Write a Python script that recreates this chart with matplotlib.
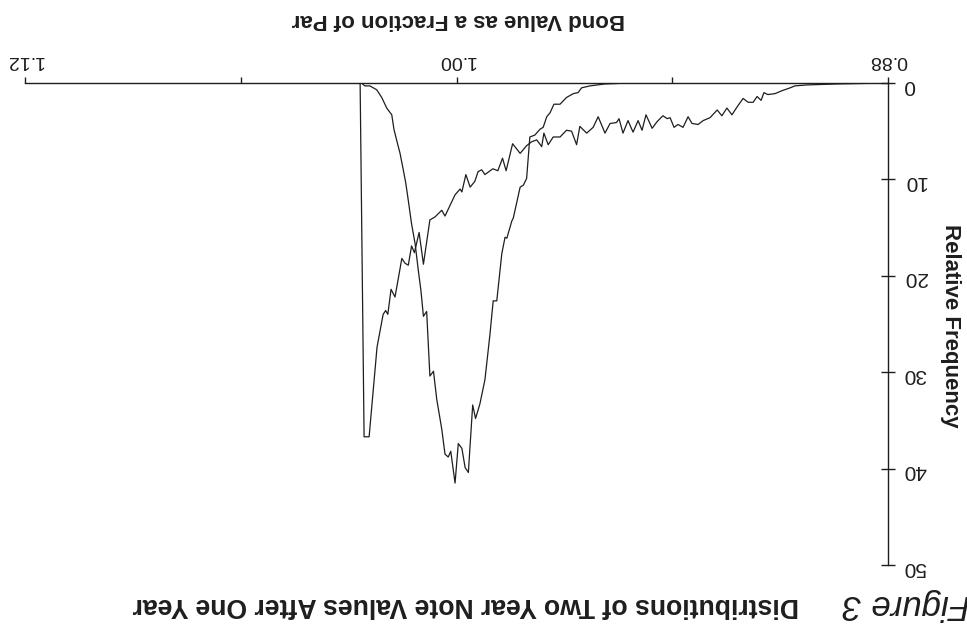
import numpy as np
import matplotlib.pyplot as plt

# bond value as a fraction of par / relative frequency
# curve with the sharp edge near par
bond_a = [1.0268, 1.0257, 1.0243, 1.0221, 1.0204, 1.0197, 1.0191, 1.0182, 1.0171,
          1.0152, 1.0143, 1.0134, 1.0125, 1.0117, 1.0104, 1.0092, 1.0074, 1.0060,
          1.0041, 1.0032, 1.0018, 1.0004, 0.9990, 0.9985, 0.9974, 0.9962, 0.9949,
          0.9940, 0.9930, 0.9921, 0.9899, 0.9885, 0.9872, 0.9862, 0.9844, 0.9823,
          0.9805, 0.9791, 0.9777, 0.9763, 0.9757, 0.9745, 0.9731, 0.9712, 0.9694,
          0.9680, 0.9666, 0.9657, 0.9638, 0.9620, 0.9606, 0.9587, 0.9573, 0.9555,
          0.9548, 0.9537, 0.9523, 0.9509, 0.9495, 0.9484, 0.9473, 0.9456, 0.9442,
          0.9426, 0.9414, 0.9406, 0.9395, 0.9384, 0.9370, 0.9356, 0.9345, 0.9328,
          0.9314, 0.9295, 0.9275, 0.9262, 0.9248, 0.9234, 0.9220, 0.9203, 0.9189,
          0.9175, 0.9164, 0.9153, 0.9145, 0.9134, 0.9114, 0.9095, 0.9072, 0.9059,
          0.9025, 0.8942, 0.8803]
freq_a = [0.1, 36.7, 36.7, 27.4, 24.0, 23.6, 24.0, 21.4, 22.2,
          18.2, 18.7, 18.9, 16.9, 17.6, 15.5, 18.8, 14.2, 13.9,
          13.2, 13.8, 12.7, 11.6, 11.0, 11.3, 9.5, 10.8, 10.2,
          9.2, 9.0, 9.5, 8.9, 9.1, 7.8, 9.1, 6.3, 7.3,
          6.5, 6.1, 5.9, 6.6, 5.2, 6.4, 5.6, 5.6, 4.9,
          5.0, 6.4, 4.5, 5.2, 4.6, 3.5, 5.2, 4.2, 4.1,
          3.7, 5.2, 3.9, 5.1, 3.9, 4.9, 3.3, 4.7, 4.0,
          3.4, 3.7, 3.6, 4.6, 4.3, 4.6, 3.5, 4.2, 4.3,
          3.9, 3.6, 2.8, 3.4, 2.6, 3.3, 2.5, 1.6, 2.0,
          2.0, 1.4, 1.8, 1.0, 1.2, 1.1, 0.8, 0.5, 0.3,
          0.2, 0.1, 0.0]

# bell shaped curve
bond_b = [1.0264, 1.0255, 1.0241, 1.0222, 1.0208, 1.0194, 1.0180, 1.0174, 1.0166,
          1.0157, 1.0148, 1.0141, 1.0134, 1.0125, 1.0115, 1.0106, 1.0099, 1.0092,
          1.0083, 1.0074, 1.0064, 1.0055, 1.0041, 1.0032, 1.0023, 1.0016, 1.0004,
          0.9995, 0.9985, 0.9976, 0.9967, 0.9955, 0.9947, 0.9935, 0.9921, 0.9907,
          0.9898, 0.9888, 0.9874, 0.9865, 0.9860, 0.9846, 0.9842, 0.9823, 0.9814,
          0.9805, 0.9796, 0.9782, 0.9768, 0.9759, 0.9749, 0.9740, 0.9729, 0.9712,
          0.9694, 0.9675, 0.9662, 0.9652, 0.9629, 0.9587, 0.9518, 0.9462]
freq_b = [0.0, 0.3, 0.3, 0.7, 1.5, 2.6, 3.3, 4.8, 6.0,
          7.3, 9.0, 10.4, 12.2, 14.6, 16.7, 19.5, 21.5, 24.2,
          23.7, 30.4, 29.9, 32.8, 35.9, 38.5, 38.8, 38.2, 41.5,
          37.4, 37.9, 39.9, 40.4, 33.4, 34.8, 33.3, 30.8, 26.1,
          22.6, 22.6, 17.7, 16.0, 16.1, 14.3, 14.0, 10.8, 10.6,
          9.9, 5.6, 5.4, 4.8, 4.6, 3.5, 3.1, 2.2, 2.2,
          1.5, 1.1, 1.0, 0.5, 0.3, 0.1, 0.0, 0.0]

x_ticks = [0.88, 0.94, 1.00, 1.06, 1.12]
x_tick_labels = ["0.88", "", "1.00", "", "1.12"]
y_ticks = [0, 10, 20, 30, 40, 50]

SANS = ["Liberation Sans", "DejaVu Sans"]
INK = "#1e1e1e"

W, H = 967, 632
fig = plt.figure(figsize=(W / 100, H / 100), dpi=100)
# the scan is upside down: 0.88 on the right, zero at the top
ax = fig.add_axes([25 / W, 1 - 565 / H, 863 / W, 482 / H])

ax.plot(bond_a, freq_a, color=INK, lw=0.9)
ax.plot(bond_b, freq_b, color=INK, lw=0.9)

ax.set_xlim(1.12, 0.88)
ax.set_ylim(50, 0)
ax.spines["left"].set_visible(False)
ax.spines["bottom"].set_visible(False)
for s in ["top", "right"]:
    ax.spines[s].set_linewidth(1.0)
    ax.spines[s].set_color(INK)

ax.xaxis.tick_top()
ax.yaxis.tick_right()
ax.set_xticks(x_ticks, x_tick_labels)
ax.set_yticks(y_ticks)
ax.tick_params(axis="x", direction="out", length=4, width=1.0, pad=6,
               labelsize=14, labelrotation=180, colors=INK)
ax.tick_params(axis="y", direction="inout", length=10, width=1.0, pad=6,
               labelsize=15, labelrotation=180, colors=INK)
for lbl in ax.get_xticklabels() + ax.get_yticklabels():
    lbl.set_family(SANS)

# texts, all turned over like the scan
fig.text(458 / W, 1 - 20 / H, "Bond Value as a Fraction of Par", rotation=180,
         ha="center", va="center", fontsize=16, fontweight="bold",
         family=SANS, color=INK)
fig.text(950 / W, 1 - 326 / H, "Relative Frequency", rotation=270,
         ha="center", va="center", fontsize=16, fontweight="bold",
         family=SANS, color=INK)
fig.text(466 / W, 1 - 605 / H, "Distributions of Two Year Note Values After One Year",
         rotation=180, ha="center", va="center", fontsize=19.2, fontweight="bold",
         family=SANS, color=INK)
fig.text(842 / W, 1 - 605 / H, "Figure 3", rotation=180, ha="left", va="center",
         fontsize=25, fontstyle="italic", family=SANS, color=INK)

fig.savefig("out.png", dpi=100)
